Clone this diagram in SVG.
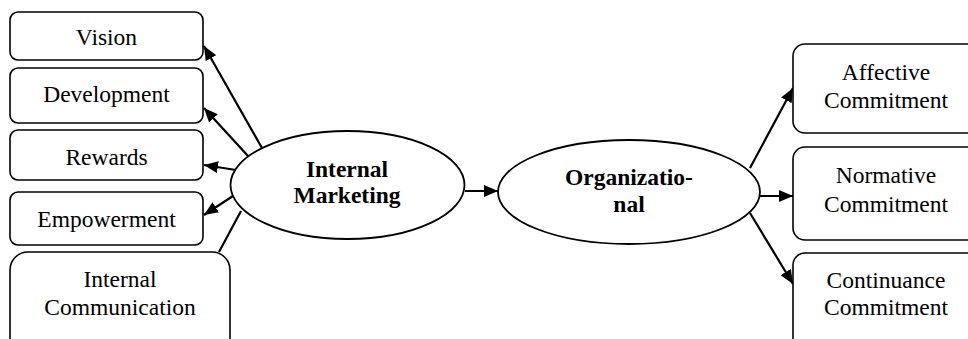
<svg xmlns="http://www.w3.org/2000/svg" width="968" height="339" viewBox="0 0 968 339">
<style>
.box{fill:#fff;stroke:#000;stroke-width:1.6}
.ell{fill:#fff;stroke:#000;stroke-width:1.8}
.t{font-family:"Liberation Serif","Times New Roman",serif;font-size:23.5px;fill:#000;text-anchor:middle}
.b{font-weight:bold}
.c{stroke:#000;stroke-width:2.2;fill:none}
</style>
<defs>
<marker id="ah" markerUnits="userSpaceOnUse" markerWidth="14" markerHeight="12" refX="14" refY="6" orient="auto">
<path d="M0,0 L14,6 L0,12 z" fill="#000"/>
</marker>
</defs>
<g id="connectors">
<line class="c" x1="262" y1="148" x2="204" y2="46" marker-end="url(#ah)"/>
<line class="c" x1="248" y1="156" x2="204" y2="108" marker-end="url(#ah)"/>
<line class="c" x1="236" y1="170" x2="204" y2="165" marker-end="url(#ah)"/>
<line class="c" x1="233" y1="196" x2="204" y2="215" marker-end="url(#ah)"/>
<line class="c" x1="241" y1="211" x2="219" y2="252"/>
<line class="c" x1="465" y1="191" x2="498" y2="191" marker-end="url(#ah)"/>
<line class="c" x1="750" y1="168" x2="793" y2="88" marker-end="url(#ah)"/>
<line class="c" x1="760" y1="196" x2="793" y2="196" marker-end="url(#ah)"/>
<line class="c" x1="750" y1="213" x2="793" y2="284" marker-end="url(#ah)"/>
</g>
<g id="vision">
<rect class="box" x="10" y="12" width="193" height="48" rx="8"/>
<text class="t" x="106.5" y="45">Vision</text>
</g>
<g id="development">
<rect class="box" x="10" y="68" width="193" height="55" rx="8"/>
<text class="t" x="106.5" y="102">Development</text>
</g>
<g id="rewards">
<rect class="box" x="10" y="130" width="193" height="50" rx="8"/>
<text class="t" x="106.5" y="165">Rewards</text>
</g>
<g id="empowerment">
<rect class="box" x="10" y="192" width="193" height="53" rx="8"/>
<text class="t" x="106.5" y="227">Empowerment</text>
</g>
<g id="internal-communication">
<rect class="box" x="10" y="252" width="220" height="110" rx="18"/>
<text class="t" x="120" y="287">Internal</text>
<text class="t" x="120" y="315">Communication</text>
</g>
<g id="internal-marketing">
<ellipse class="ell" cx="347.5" cy="185" rx="117" ry="54"/>
<text class="t b" x="347" y="177">Internal</text>
<text class="t b" x="347" y="203">Marketing</text>
</g>
<g id="organizational">
<ellipse class="ell" cx="629" cy="192" rx="131" ry="52"/>
<text class="t b" x="629" y="185">Organizatio-</text>
<text class="t b" x="629" y="212">nal</text>
</g>
<g id="affective">
<rect class="box" x="793" y="44" width="190" height="89" rx="12"/>
<text class="t" x="886" y="80">Affective</text>
<text class="t" x="886" y="108">Commitment</text>
</g>
<g id="normative">
<rect class="box" x="793" y="147" width="190" height="93" rx="12"/>
<text class="t" x="886" y="183">Normative</text>
<text class="t" x="886" y="212">Commitment</text>
</g>
<g id="continuance">
<rect class="box" x="793" y="253" width="190" height="110" rx="12"/>
<text class="t" x="886" y="288">Continuance</text>
<text class="t" x="886" y="315">Commitment</text>
</g>
</svg>
